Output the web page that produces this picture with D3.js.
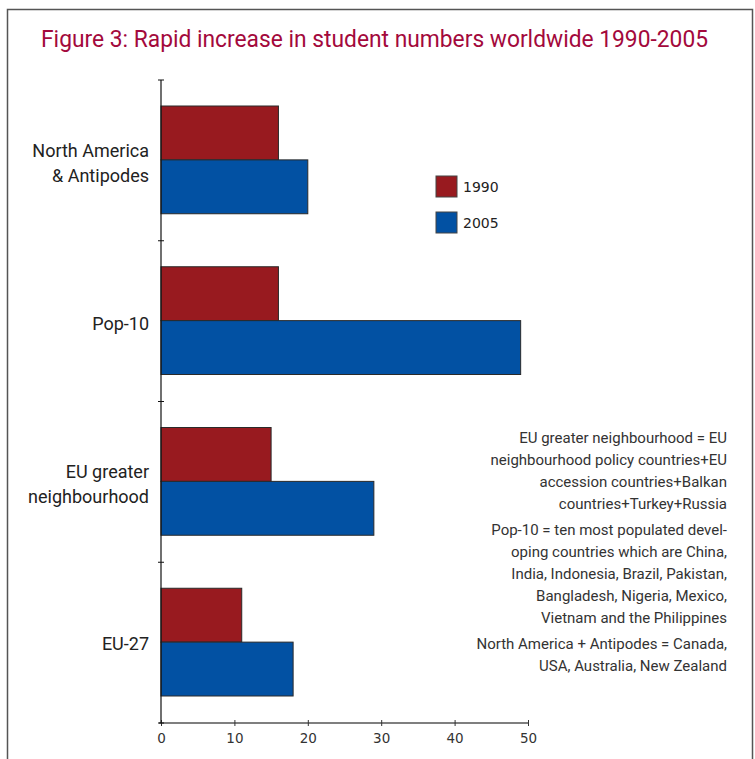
<!DOCTYPE html>
<html>
<head>
<meta charset="utf-8">
<script src="https://cdn.jsdelivr.net/npm/d3@7"></script>
<style>
  body { margin: 0; background: #fff; }
  svg { display: block; }
</style>
</head>
<body>
<svg id="chart" width="755" height="759"></svg>
<script>
const categories = ['North America\n& Antipodes', 'Pop-10', 'EU greater\nneighbourhood', 'EU-27'];
const series = ['1990', '2005'];
const values1990 = [16, 16, 15, 11];
const values2005 = [20, 49, 29, 18];
const xTicks = [0, 10, 20, 30, 40, 50];
const notes = [
  ['EU greater neighbourhood = EU', 'neighbourhood policy countries+EU', 'accession countries+Balkan', 'countries+Turkey+Russia'],
  ['Pop-10 = ten most populated devel-', 'oping countries which are China,', 'India, Indonesia, Brazil, Pakistan,', 'Bangladesh, Nigeria, Mexico,', 'Vietnam and the Philippines'],
  ['North America + Antipodes = Canada,', 'USA, Australia, New Zealand']
];

const colors = { '1990': '#981a1f', '2005': '#0251a3' };

const svg = d3.select('#chart');

// frame
svg.append('path')
  .attr('d', 'M7.5,770 V9.5 H752.5 V770')
  .attr('fill', 'none')
  .attr('stroke', '#555')
  .attr('stroke-width', 1.5);

svg.append('text')
  .attr('x', 41).attr('y', 47)
  .attr('textLength', 667)
  .attr('lengthAdjust', 'spacingAndGlyphs')
  .attr('fill', '#a3093c')
  .style('font-family', 'Roboto, sans-serif')
  .style('font-size', '23.5px')
  .text('Figure 3: Rapid increase in student numbers worldwide 1990-2005');

const margin = { left: 161, top: 80, right: 227, bottom: 36 };
const plotH = 759 - margin.top - margin.bottom;

const g = svg.append('g').attr('transform', `translate(${margin.left},${margin.top})`);

const x = d3.scaleLinear().domain([0, 50]).range([0, 367]);
const y = d3.scaleBand().domain(categories).range([0, plotH]).paddingInner(0).paddingOuter(0);
const inner = d3.scaleBand().domain(series).range([26, y.bandwidth() - 27]);

const rows = categories.map((c, i) => ({ cat: c, v: [values1990[i], values2005[i]] }));

rows.forEach(r => {
  series.forEach((s, j) => {
    g.append('rect')
      .attr('x', x(0))
      .attr('y', y(r.cat) + inner(s))
      .attr('width', x(r.v[j]))
      .attr('height', inner.bandwidth())
      .attr('fill', colors[s])
      .attr('stroke', '#2a2a2a')
      .attr('stroke-width', 1);
  });
});

// x axis
const xAxis = g.append('g')
  .attr('transform', `translate(0,${plotH})`)
  .call(d3.axisBottom(x).tickValues(xTicks).tickSize(5).tickSizeOuter(0).tickPadding(5));
xAxis.select('.domain').attr('stroke', '#555').attr('stroke-width', 1.5).attr('d', `M${-2},0H${x(50)}`);
xAxis.selectAll('.tick line').attr('stroke', '#333').attr('y1', -3).attr('y2', 3);
xAxis.selectAll('.tick text')
  .attr('fill', '#333')
  .style('font-family', '"DejaVu Sans", sans-serif')
  .style('font-size', '13.5px');

// y axis
const yAxis = g.append('g');
yAxis.append('line')
  .attr('x1', 0).attr('x2', 0).attr('y1', 0).attr('y2', plotH)
  .attr('stroke', '#111').attr('stroke-width', 1.2);
const yTicks = categories.map(c => y(c)).concat([plotH]);
yAxis.selectAll('.yt').data(yTicks).enter().append('line')
  .attr('x1', -3).attr('x2', 3)
  .attr('y1', d => d).attr('y2', d => d)
  .attr('stroke', '#111');

// category labels
categories.forEach((c, i) => {
  const lines = c.split('\n');
  const cy = y(c) + y.bandwidth() / 2 + 3 - (i === 3 ? 2 : 0);
  const t = g.append('text')
    .attr('text-anchor', 'end')
    .attr('fill', '#222')
    .style('font-family', 'Roboto, sans-serif')
    .style('font-size', '18px');
  lines.forEach((l, k) => {
    t.append('tspan')
      .attr('x', -12)
      .attr('y', cy + (k - (lines.length - 1) / 2) * 25 + 6)
      .text(l);
  });
});

// legend
const legend = svg.append('g').attr('transform', 'translate(436,176)');
series.forEach((s, i) => {
  legend.append('rect')
    .attr('x', 0).attr('y', i * 36)
    .attr('width', 21).attr('height', 21)
    .attr('fill', colors[s])
    .attr('stroke', '#444');
  legend.append('text')
    .attr('x', 27).attr('y', i * 36 + 16)
    .attr('fill', '#222')
    .style('font-family', '"DejaVu Sans", sans-serif')
    .style('font-size', '14px')
    .text(s);
});

// notes
const noteG = svg.append('g')
  .attr('text-anchor', 'end')
  .attr('fill', '#333')
  .style('font-family', 'Roboto, sans-serif')
  .style('font-size', '15px');
let ny = 443;
notes.forEach(p => {
  p.forEach(l => {
    noteG.append('text').attr('x', 727).attr('y', ny).text(l);
    ny += 22;
  });
  ny += 4;
});
</script>
</body>
</html>
